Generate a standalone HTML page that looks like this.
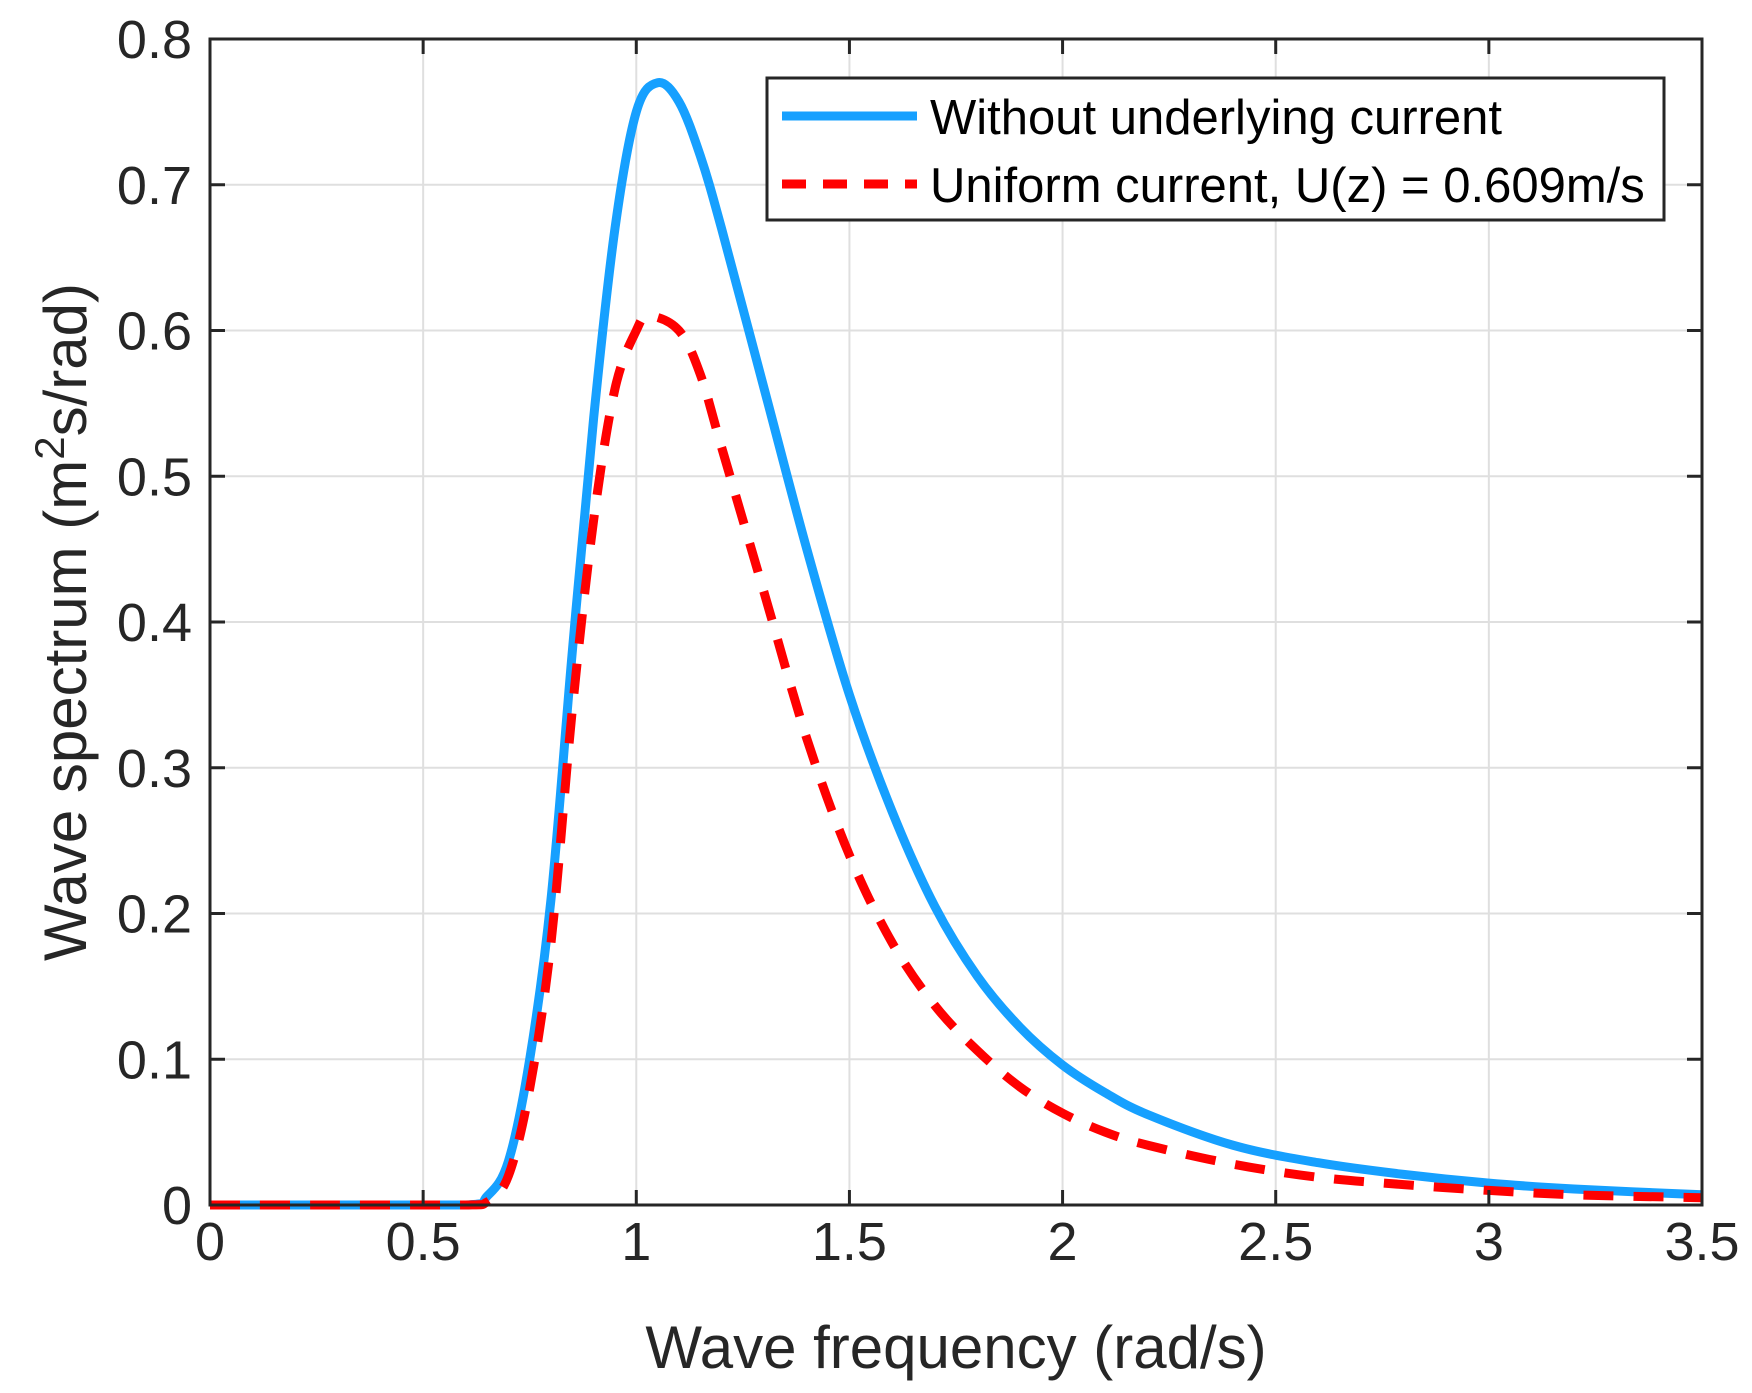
<!DOCTYPE html>
<html><head><meta charset="utf-8"><style>
html,body{margin:0;padding:0;background:#fff;}
svg{display:block;font-family:"Liberation Sans",Arial,sans-serif;}
</style></head><body>
<svg id="chart" width="1752" height="1393" viewBox="0 0 1752 1393" xmlns="http://www.w3.org/2000/svg">
<rect width="1752" height="1393" fill="#fff"/>
<g id="grid"></g>
<g id="series"></g>
<g id="axes"></g>
<text x="956" y="1368" font-size="60" text-anchor="middle" fill="#262626">Wave frequency (rad/s)</text>
<text transform="translate(86,622) rotate(-90)" font-size="60" text-anchor="middle" fill="#262626">Wave spectrum (m<tspan font-size="42" dy="-22">2</tspan><tspan dy="22">s/rad)</tspan></text>
<g>
<rect x="767" y="78" width="897" height="142" fill="#fff" stroke="#262626" stroke-width="3"/>
<line x1="782" y1="116" x2="917" y2="116" stroke="#16a0ff" stroke-width="9"/>
<text x="930" y="134" font-size="49" fill="#000">Without underlying current</text>
<line x1="782" y1="184" x2="917" y2="184" stroke="#ff0000" stroke-width="9" stroke-dasharray="24 17"/>
<text x="930" y="202" font-size="49" fill="#000">Uniform current, U(z) = 0.609m/s</text>
</g>
</svg>
<script>
const xTicks=[0,0.5,1,1.5,2,2.5,3,3.5];
const xTickLabels=["0","0.5","1","1.5","2","2.5","3","3.5"];
const yTicks=[0,0.1,0.2,0.3,0.4,0.5,0.6,0.7,0.8];
const yTickLabels=["0","0.1","0.2","0.3","0.4","0.5","0.6","0.7","0.8"];
const freqBlue=[0,0.3,0.6,0.65,0.7,0.75,0.8,0.85,0.9,0.95,1.0,1.05,1.1,1.15,1.2,1.3,1.4,1.5,1.6,1.7,1.8,1.9,2.0,2.1,2.2,2.4,2.6,2.8,3.0,3.2,3.5];
const specBlue=[0,0,0,0.006,0.03,0.1,0.21,0.38,0.54,0.67,0.75,0.77,0.757,0.72,0.67,0.56,0.45,0.35,0.27,0.205,0.157,0.122,0.096,0.077,0.062,0.041,0.029,0.021,0.015,0.011,0.007];
const freqRed=[0,0.3,0.6,0.65,0.7,0.75,0.8,0.85,0.9,0.95,1.0,1.03,1.1,1.15,1.2,1.3,1.4,1.5,1.6,1.7,1.8,1.9,2.0,2.1,2.2,2.4,2.6,2.8,3.0,3.2,3.5];
const specRed=[0,0,0,0.002,0.02,0.08,0.18,0.34,0.47,0.56,0.6,0.61,0.6,0.57,0.52,0.42,0.32,0.24,0.18,0.137,0.106,0.081,0.063,0.05,0.041,0.028,0.019,0.014,0.01,0.007,0.005];

const L=210,R=1702,T=39,B=1205;
const xs=v=>L+(v-0)/(3.5-0)*(R-L);
const ys=v=>B-(v-0)/(0.8-0)*(B-T);
const NS="http://www.w3.org/2000/svg";
function mk(tag,attrs,parent){const e=document.createElementNS(NS,tag);for(const k in attrs)e.setAttribute(k,attrs[k]);parent.appendChild(e);return e;}
const grid=document.getElementById('grid'),axes=document.getElementById('axes'),series=document.getElementById('series');
xTicks.forEach((t,i)=>{
  const g=mk('line',{x1:xs(t),x2:xs(t),y1:T,y2:B,stroke:'#dfdfdf','stroke-width':2},grid);
  
  
  const tk=mk('line',{x1:xs(t),x2:xs(t),y1:B,y2:B-15,stroke:'#262626','stroke-width':3},axes);
  
  
  const tk2=mk('line',{x1:xs(t),x2:xs(t),y1:T,y2:T+15,stroke:'#262626','stroke-width':3},axes);
  
  
  const lb=mk('text',{x:xs(t),y:B+55,'font-size':54,'text-anchor':'middle',fill:'#262626'},axes);
  lb.textContent=xTickLabels[i];
  
  
});
yTicks.forEach((t,i)=>{
  const g=mk('line',{x1:L,x2:R,y1:ys(t),y2:ys(t),stroke:'#dfdfdf','stroke-width':2},grid);
  
  
  const tk=mk('line',{x1:L,x2:L+15,y1:ys(t),y2:ys(t),stroke:'#262626','stroke-width':3},axes);
  
  
  const tk2=mk('line',{x1:R,x2:R-15,y1:ys(t),y2:ys(t),stroke:'#262626','stroke-width':3},axes);
  
  
  const lb=mk('text',{x:L-18,y:ys(t)+19,'font-size':54,'text-anchor':'end',fill:'#262626'},axes);
  lb.textContent=yTickLabels[i];
  
  
});
const frame=mk('rect',{x:L,y:T,width:R-L,height:B-T,fill:'none',stroke:'#262626','stroke-width':3},axes);


function smoothPath(xa,ya){
  const p=xa.map((x,i)=>[xs(x),ys(ya[i])]);
  let d='M'+p[0][0]+','+p[0][1];
  for(let i=0;i<p.length-1;i++){
    const p0=p[Math.max(i-1,0)],p1=p[i],p2=p[i+1],p3=p[Math.min(i+2,p.length-1)];
    let c1y=p1[1]+(p2[1]-p0[1])/6,c2y=p2[1]-(p3[1]-p1[1])/6;
    c1y=Math.max(Math.min(c1y,B),T);c2y=Math.max(Math.min(c2y,B),T);
    d+=' C'+(p1[0]+(p2[0]-p0[0])/6)+','+c1y+' '+(p2[0]-(p3[0]-p1[0])/6)+','+c2y+' '+p2[0]+','+p2[1];
  }
  return d;
}
const blue=mk('path',{d:smoothPath(freqBlue,specBlue),fill:'none',stroke:'#16a0ff','stroke-width':9,'stroke-linejoin':'round'},series);


const red=mk('path',{d:smoothPath(freqRed,specRed),fill:'none',stroke:'#ff0000','stroke-width':9,'stroke-dasharray':'30 20'},series);


</script>
</body></html>
